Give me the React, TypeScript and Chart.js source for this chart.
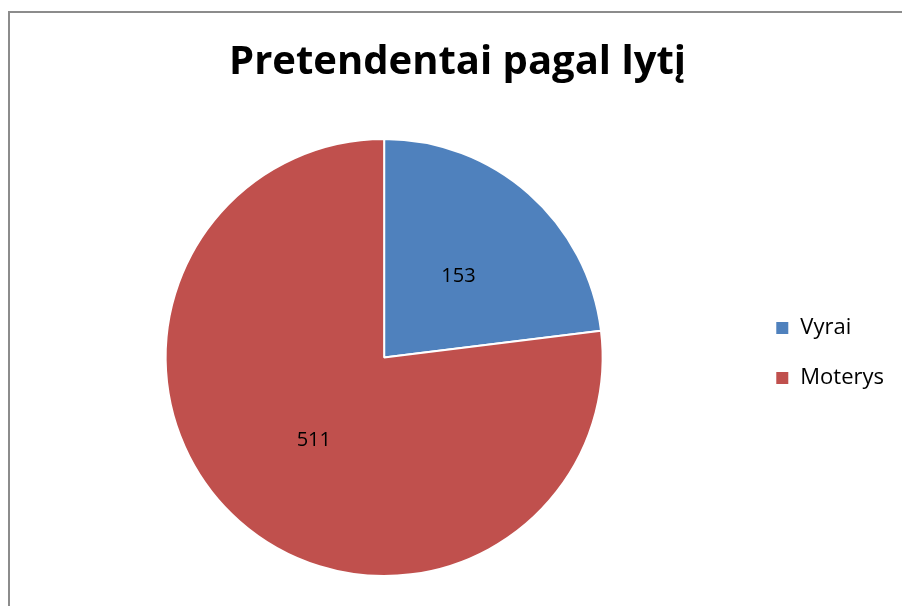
import React, { useEffect, useRef } from "react";
import { Chart, registerables } from "chart.js";

Chart.register(...registerables);

const categories = ["Vyrai", "Moterys"];
const values = [153, 511];
const colors = ["#4F81BD", "#C0504D"];
const titleText = "Pretendentai pagal lytį";

const FONT = "'Open Sans', sans-serif";

const valueLabels = {
  id: "valueLabels",
  afterDatasetsDraw(chart: any) {
    const ctx = chart.ctx;
    const meta = chart.getDatasetMeta(0);
    ctx.save();
    ctx.font = `20px ${FONT}`;
    ctx.fillStyle = "#000";
    ctx.textAlign = "center";
    ctx.textBaseline = "middle";
    meta.data.forEach((arc: any, i: number) => {
      const p = arc.getCenterPoint();
      ctx.fillText(String(chart.data.datasets[0].data[i]), p.x + 2, p.y + 1);
    });
    ctx.restore();
  },
};

export default function App() {
  const ref = useRef<HTMLCanvasElement>(null);
  useEffect(() => {
    if (!ref.current) return;
    const chart = new Chart(ref.current, {
      type: "pie",
      data: {
        labels: categories,
        datasets: [
          {
            data: values,
            backgroundColor: colors,
            borderColor: "#ffffff",
            borderWidth: 2,
          },
        ],
      },
      options: {
        responsive: false,
        animation: false,
        layout: { padding: { left: 21, right: 8, top: 0, bottom: 29 } },
        plugins: {
          title: {
            display: true,
            text: titleText,
            color: "#000",
            font: { family: FONT, size: 40, weight: "bold", lineHeight: 1.2 },
            padding: { top: 38.5, bottom: 51.5 },
          },
          legend: {
            position: "right",
            align: "start",
            title: {
              display: true,
              text: " ",
              font: { size: 10, lineHeight: 28.9 },
              padding: 0,
            },
            labels: {
              color: "#000",
              font: { family: FONT, size: 22 },
              boxWidth: 14,
              boxHeight: 14,
              padding: 28,
            },
          },
          tooltip: { enabled: false },
        },
      },
      plugins: [valueLabels],
    });
    return () => chart.destroy();
  }, []);
  return (
    <div style={{ position: "fixed", left: 0, top: 0, width: 902, height: 606, overflow: "hidden", background: "#fff" }}>
      <div style={{ position: "absolute", left: 8, top: 11, width: 1000, height: 1000, border: "2px solid #8c8c8c" }} />
      <canvas ref={ref} width={902} height={606} style={{ position: "absolute", left: 0, top: 0, width: 902, height: 606 }} />
    </div>
  );
}
